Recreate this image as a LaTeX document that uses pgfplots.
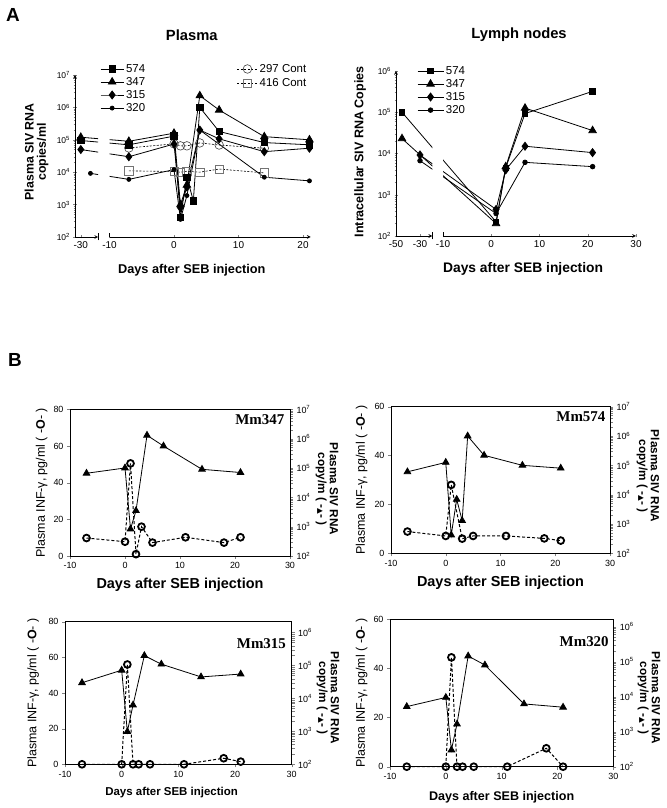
\documentclass[border=0pt]{standalone}
\usepackage{fontspec}
\setmainfont{Liberation Sans}
\newfontfamily\serifb{Liberation Serif}
\newfontfamily\symfont{DejaVu Sans}
\usepackage{pgfplots}
\usepackage{pgfplotstable}
\pgfplotsset{compat=1.18}
\newcommand{\fsz}[1]{\fontsize{#1}{#1}\selectfont}

% ---------- Panel A, plasma ----------
\pgfplotstableread{
d v
-30 9.5e4
-7 7e4
0 1.3e5
1 4e2
2 7e3
3 1.3e3
4 1e6
7 1.8e5
14 8.2e4
21 7e4
}\tabPa
\pgfplotstableread{
d v
-30 1.2e5
-7 9e4
0 1.6e5
1 1e3
2 4e3
4 2.3e6
7 8.3e5
14 1.25e5
21 1e5
}\tabPb
\pgfplotstableread{
d v
-30 5e4
-7 3e4
0 7.4e4
1 8e2
2 3.5e3
4 2e5
7 1.07e5
14 4.3e4
21 5.5e4
}\tabPc
\pgfplotstableread{
d v
-28.5 9.2e3
-7 6e3
0 1.2e4
1 3.5e2
2 1.9e3
4 2e5
14 7e3
21 5.4e3
}\tabPd
\pgfplotstableread{
d v
-7 5.6e4
0 7.5e4
1 6.5e4
2 6.5e4
4 8e4
7 6.9e4
14 5.5e4
}\tabPe
\pgfplotstableread{
d v
-7 1.1e4
0 1.05e4
1 1e4
2 1.07e4
4 1e4
7 1.25e4
14 9.5e3
}\tabPf
% ---------- Panel A, lymph nodes ----------
\pgfplotstableread{
d v
-45 1e5
1 2.2e2
3 4.5e3
7 9.3e4
21 3.2e5
}\tabLa
\pgfplotstableread{
d v
-45 2.3e4
1 2e2
3 4.8e3
7 1.26e5
21 3.6e4
}\tabLb
\pgfplotstableread{
d v
-30 9.2e3
1 4.4e2
3 4e3
7 1.5e4
21 1.05e4
}\tabLc
\pgfplotstableread{
d v
-30 6.7e3
1 3.5e2
7 6.1e3
21 4.8e3
}\tabLd
% ---------- Panel B ----------
\pgfplotstableread{
d v
-7 9.8
0 7.8
1 50.5
2 1
3 16
5 7.3
11 10.2
18 7.3
21 10.2
}\tabIa
\pgfplotstableread{
d v
-7 6.6e4
0 1e5
1 8.3e2
2 3.5e3
4 1.3e6
7 5.6e5
14 9e4
21 7e4
}\tabSa
\pgfplotstableread{
d v
-7 8.9
0 7.1
1 28
3 6
5 7.1
11 7.1
18 6.1
21 5.2
}\tabIb
\pgfplotstableread{
d v
-7 6e4
0 1.26e5
1 4.2e2
2 6.9e3
3 1.3e3
4 1e6
7 2.2e5
14 1e5
21 8e4
}\tabSb
\pgfplotstableread{
d v
-7 0
0 0
1 56
2 0
3 0
5 0
11 0
18 3.4
21 1.5
}\tabIc
\pgfplotstableread{
d v
-7 3e4
0 7.2e4
1 9.8e2
2 6.3e3
4 2e5
7 1.1e5
14 4.5e4
21 5.5e4
}\tabSc
\pgfplotstableread{
d v
-7 0
0 0
1 44.5
2 0
3 0
5 0
11 0
18 7.5
21 0
}\tabId
\pgfplotstableread{
d v
-7 5.2e3
0 9.5e3
1 3e2
2 1.65e3
4 1.45e5
7 8e4
14 6.2e3
21 5e3
}\tabSd

\tikzset{
  s574/.style={black, line width=0.8bp, mark=square*, mark size=3.2bp, mark options={solid}},
  s347/.style={black, line width=0.8bp, mark=triangle*, mark size=4.3bp, mark options={solid}},
  s315/.style={black, line width=0.8bp, mark=diamond*, mark size=4bp, mark options={solid}},
  s320/.style={black, line width=0.8bp, mark=*, mark size=2bp, mark options={solid}},
  s297/.style={black, line width=0.6bp, dash pattern=on 2bp off 1.5bp, mark=o, mark size=4.3bp, mark options={solid, fill=white, draw=black!75}},
  s416/.style={black, line width=0.6bp, dash pattern=on 2bp off 1.5bp, mark=square, mark size=4.2bp, mark options={solid, fill=white, draw=black!55}},
  sci/.style={black, line width=1bp, dash pattern=on 3bp off 2bp, mark=o, mark size=3.4bp, mark options={solid, fill=white, line width=1.8bp}},
  str/.style={black, line width=0.8bp, mark=triangle*, mark size=3.8bp, mark options={solid}},
  rlab/.style={rotate=-90, align=center, font=\fsz{11.8}\bfseries},
}
\newcommand{\rlabtext}{Plasma SIV RNA\\copy/m ( -{\symfont\fsz{7.5}▲}- )}

\begin{document}
\begin{tikzpicture}
\path[use as bounding box] (0bp,0bp) rectangle (667bp,808bp);
\node[font=\fsz{19}\bfseries] at (13bp,793bp) {A};
\node[font=\fsz{19}\bfseries] at (15bp,448bp) {B};

% ===== Plasma, left segment =====
\begin{axis}[name=plL, scale only axis, anchor=south west, at={(75bp,571bp)}, width=23.2bp, height=162bp,
  x coord trafo/.code={\pgfmathparse{((#1)<=-20)*(((#1)+30.9)*6.45)+((#1)>-20)*(34.5+((#1)+10)*6.45)}},
  ymode=log, ymin=1e2, ymax=1e7, xmin=-30.9, xmax=-27.3,
  tick align=outside, major tick length=3bp,
  axis line style={-, line width=0.7bp},
  xticklabel style={font=\fsz{10}}, yticklabel style={font=\fsz{8.5}},
  axis x line=bottom, axis y line=left,
  xtick={-30}, xticklabels={-30},
  ytick={1e2,1e3,1e4,1e5,1e6,1e7},
  yticklabels={10\textsuperscript{2},10\textsuperscript{3},10\textsuperscript{4},10\textsuperscript{5},10\textsuperscript{6},10\textsuperscript{7}},
  ylabel={Plasma SIV RNA\\copies/ml},
  ylabel style={at={(axis description cs:-1.66,0.525)}, anchor=center, align=center, font=\fsz{12.4}\bfseries},
  legend style={draw=none, fill=none, at={(axis description cs:6.98,1.08)}, anchor=north west, font=\fsz{11.5}, inner sep=0pt, row sep=0.8bp},
  legend cell align=left,
  legend image code/.code={\draw[mark repeat=2,mark phase=2] plot coordinates {(0bp,0bp) (10bp,0bp) (20bp,0bp)};}]
\addplot[s574, forget plot] table[x=d,y=v]{\tabPa};
\addplot[s347, forget plot] table[x=d,y=v]{\tabPb};
\addplot[s315, forget plot] table[x=d,y=v]{\tabPc};
\addplot[s320, forget plot] table[x=d,y=v]{\tabPd};
\addplot[s297] table[x=d,y=v]{\tabPe};
\addplot[s416] table[x=d,y=v]{\tabPf};
\legend{297 Cont,416 Cont}
\end{axis}
\draw[line width=0.7bp] ([yshift=-3.5bp]plL.south east) -- ([yshift=3.5bp]plL.south east);

% ===== Plasma, right segment =====
\begin{axis}[name=plR, scale only axis, anchor=south west, at={(109.5bp,571bp)}, width=201.24bp, height=162bp,
  x coord trafo/.code={\pgfmathparse{((#1)<=-20)*(((#1)+30.9)*6.45)+((#1)>-20)*(34.5+((#1)+10)*6.45)}},
  ymode=log, ymin=1e2, ymax=1e7, xmin=-10, xmax=21.2,
  tick align=outside, major tick length=3bp,
  axis line style={-, line width=0.7bp},
  xticklabel style={font=\fsz{10}},
  axis x line=bottom, axis y line=none,
  xtick={-10,0,10,20}, xticklabels={-10,0,10,20},
  xlabel={Days after SEB injection},
  xlabel style={at={(axis description cs:0.409,-0.204)}, anchor=center, font=\fsz{12.8}\bfseries},
  title={Plasma},
  title style={at={(axis description cs:0.409,1.21)}, anchor=center, font=\fsz{14.8}\bfseries},
  legend style={draw=none, fill=none, at={(axis description cs:-0.047,1.08)}, anchor=north west, font=\fsz{11.5}, inner sep=0pt, row sep=-0.4bp},
  legend cell align=left,
  legend image code/.code={\draw[mark repeat=2,mark phase=2] plot coordinates {(0bp,0bp) (11.5bp,0bp) (23bp,0bp)};}]
\addplot[s297, forget plot] table[x=d,y=v]{\tabPe};
\addplot[s416, forget plot] table[x=d,y=v]{\tabPf};
\addplot[s574] table[x=d,y=v]{\tabPa};
\addplot[s347] table[x=d,y=v]{\tabPb};
\addplot[s315] table[x=d,y=v]{\tabPc};
\addplot[s320] table[x=d,y=v]{\tabPd};
\legend{574,347,315,320}
\end{axis}
\draw[line width=0.7bp] (plR.south west) -- ([yshift=3.5bp]plR.south west);

% ===== Lymph nodes, left segment =====
\begin{axis}[name=lyL, scale only axis, anchor=south west, at={(396bp,572bp)}, width=36.3bp, height=165bp,
  x coord trafo/.code={\pgfmathparse{((#1)<=-15)*(((#1)+50)*1.2)+((#1)>-15)*(47+((#1)+10)*4.825)}},
  ymode=log, ymin=1e2, ymax=1e6, xmin=-50, xmax=-19.75,
  tick align=outside, major tick length=3bp,
  axis line style={-, line width=0.7bp},
  xticklabel style={font=\fsz{10}}, yticklabel style={font=\fsz{8.5}},
  axis x line=bottom, axis y line=left,
  xtick={-50,-30}, xticklabels={-50,-30},
  ytick={1e2,1e3,1e4,1e5,1e6},
  yticklabels={10\textsuperscript{2},10\textsuperscript{3},10\textsuperscript{4},10\textsuperscript{5},10\textsuperscript{6}},
  ylabel={Intracellular SIV RNA Copies},
  ylabel style={at={(axis description cs:-0.99,0.51)}, anchor=center, font=\fsz{12.6}\bfseries}]
\addplot[s574, mark size=2.8bp] table[x=d,y=v]{\tabLa};
\addplot[s347] table[x=d,y=v]{\tabLb};
\addplot[s315] table[x=d,y=v]{\tabLc};
\addplot[s320, mark size=2.3bp] table[x=d,y=v]{\tabLd};
\end{axis}
\draw[line width=0.7bp] ([yshift=-3.5bp]lyL.south east) -- ([yshift=3.5bp]lyL.south east);

% ===== Lymph nodes, right segment =====
\begin{axis}[name=lyR, scale only axis, anchor=south west, at={(443bp,572bp)}, width=193bp, height=165bp,
  x coord trafo/.code={\pgfmathparse{((#1)<=-15)*(((#1)+50)*1.2)+((#1)>-15)*(47+((#1)+10)*4.825)}},
  ymode=log, ymin=1e2, ymax=1e6, xmin=-10, xmax=30,
  tick align=outside, major tick length=3bp,
  axis line style={-, line width=0.7bp},
  xticklabel style={font=\fsz{10}},
  axis x line=bottom, axis y line=none,
  xtick={-10,0,10,20,30}, xticklabels={-10,0,10,20,30},
  xlabel={Days after SEB injection},
  xlabel style={at={(axis description cs:0.415,-0.2)}, anchor=center, font=\fsz{13.9}\bfseries},
  title={Lymph nodes},
  title style={at={(axis description cs:0.394,1.182)}, anchor=center, font=\fsz{14.8}\bfseries},
  legend style={draw=none, fill=none, at={(axis description cs:-0.135,1.042)}, anchor=north west, font=\fsz{11.5}, inner sep=0pt, row sep=-0.4bp},
  legend cell align=left,
  legend image code/.code={\draw[mark repeat=2,mark phase=2] plot coordinates {(0bp,0bp) (13bp,0bp) (26bp,0bp)};}]
\addplot[s574, mark size=2.8bp] table[x=d,y=v]{\tabLa};
\addplot[s347] table[x=d,y=v]{\tabLb};
\addplot[s315] table[x=d,y=v]{\tabLc};
\addplot[s320, mark size=2.3bp] table[x=d,y=v]{\tabLd};
\legend{574,347,315,320}
\end{axis}
\draw[line width=0.7bp] (lyR.south west) -- ([yshift=3.5bp]lyR.south west);

% ===== Mm347 =====
\begin{axis}[scale only axis, anchor=south west, at={(70bp,252bp)}, width=220bp, height=146.7bp, clip=false,
  xmin=-10, xmax=30, tick align=outside, major tick length=3bp,
  axis line style={line width=0.7bp}, ticklabel style={font=\fsz{9}},
  ymode=log, ymin=1e2, ymax=1e7, axis y line*=right, axis x line=none,
  ytick={1e2,1e3,1e4,1e5,1e6,1e7},
  yticklabels={10\textsuperscript{2},10\textsuperscript{3},10\textsuperscript{4},10\textsuperscript{5},10\textsuperscript{6},10\textsuperscript{7}}]
\addplot[str] table[x=d,y=v]{\tabSa};
\end{axis}
\begin{axis}[scale only axis, anchor=south west, at={(70bp,252bp)}, width=220bp, height=146.7bp, clip=false,
  xmin=-10, xmax=30, tick align=outside, major tick length=3bp,
  axis line style={line width=0.7bp}, ticklabel style={font=\fsz{9}},
  ymin=0, ymax=80, xtick={-10,0,10,20,30}, xticklabels={-10,0,10,20,30},
  xtick pos=left, ytick pos=left,
  ytick={0,20,40,60,80}, yticklabels={0,20,40,60,80},
  ylabel={Plasma INF-γ, pg/ml ( -\textbf{O}- )},
  ylabel style={anchor=center, font=\fsz{12.5}, at={(axis description cs:-0.129,0.5)}},
  xlabel={Days after SEB injection},
  xlabel style={anchor=center, at={(axis description cs:0.5,-0.198)}, font=\fsz{14.5}\bfseries}]
\addplot[sci] table[x=d,y=v]{\tabIa};
\node[anchor=east, font=\fsz{15}\serifb\bfseries] at (axis description cs:0.99,0.927) {Mm347};
\end{axis}
\node[rlab] at (327bp,319bp) {\rlabtext};

% ===== Mm574 =====
\begin{axis}[scale only axis, anchor=south west, at={(391bp,254.7bp)}, width=219bp, height=146.6bp, clip=false,
  xmin=-10, xmax=30, tick align=outside, major tick length=3bp,
  axis line style={line width=0.7bp}, ticklabel style={font=\fsz{9}},
  ymode=log, ymin=1e2, ymax=1e7, axis y line*=right, axis x line=none,
  ytick={1e2,1e3,1e4,1e5,1e6,1e7},
  yticklabels={10\textsuperscript{2},10\textsuperscript{3},10\textsuperscript{4},10\textsuperscript{5},10\textsuperscript{6},10\textsuperscript{7}}]
\addplot[str] table[x=d,y=v]{\tabSb};
\end{axis}
\begin{axis}[scale only axis, anchor=south west, at={(391bp,254.7bp)}, width=219bp, height=146.6bp, clip=false,
  xmin=-10, xmax=30, tick align=outside, major tick length=3bp,
  axis line style={line width=0.7bp}, ticklabel style={font=\fsz{9}},
  ymin=0, ymax=60, xtick={-10,0,10,20,30}, xticklabels={-10,0,10,20,30},
  xtick pos=left, ytick pos=left,
  ytick={0,20,40,60}, yticklabels={0,20,40,60},
  ylabel={Plasma INF-γ, pg/ml ( -\textbf{O}- )},
  ylabel style={anchor=center, font=\fsz{12.5}, at={(axis description cs:-0.134,0.5)}},
  xlabel={Days after SEB injection},
  xlabel style={anchor=center, at={(axis description cs:0.5,-0.203)}, font=\fsz{14.5}\bfseries}]
\addplot[sci] table[x=d,y=v]{\tabIb};
\node[anchor=east, font=\fsz{15}\serifb\bfseries] at (axis description cs:0.995,0.93) {Mm574};
\end{axis}
\node[rlab] at (648bp,332bp) {\rlabtext};

% ===== Mm315 =====
\begin{axis}[scale only axis, anchor=south west, at={(65bp,43.7bp)}, width=226.7bp, height=142.6bp, clip=false,
  xmin=-10, xmax=30, tick align=outside, major tick length=3bp,
  axis line style={line width=0.7bp}, ticklabel style={font=\fsz{9}},
  ymode=log, ymin=1e2, ymax=2.14e6, axis y line*=right, axis x line=none,
  ytick={1e2,1e3,1e4,1e5,1e6},
  yticklabels={10\textsuperscript{2},10\textsuperscript{3},10\textsuperscript{4},10\textsuperscript{5},10\textsuperscript{6}}]
\addplot[str] table[x=d,y=v]{\tabSc};
\end{axis}
\begin{axis}[scale only axis, anchor=south west, at={(65bp,43.7bp)}, width=226.7bp, height=142.6bp, clip=false,
  xmin=-10, xmax=30, tick align=outside, major tick length=3bp,
  axis line style={line width=0.7bp}, ticklabel style={font=\fsz{9}},
  ymin=0, ymax=80, xtick={-10,0,10,20,30}, xticklabels={-10,0,10,20,30},
  xtick pos=left, ytick pos=left,
  ytick={0,20,40,60,80}, yticklabels={0,20,40,60,80},
  ylabel={Plasma INF-γ, pg/ml ( -\textbf{O}- )},
  ylabel style={anchor=center, font=\fsz{12.5}, at={(axis description cs:-0.14,0.5)}},
  xlabel={Days after SEB injection},
  xlabel style={anchor=center, at={(axis description cs:0.47,-0.2)}, font=\fsz{11.5}\bfseries}]
\addplot[sci] table[x=d,y=v]{\tabIc};
\node[anchor=east, font=\fsz{15}\serifb\bfseries] at (axis description cs:0.99,0.845) {Mm315};
\end{axis}
\node[rlab] at (328bp,110bp) {\rlabtext};

% ===== Mm320 =====
\begin{axis}[scale only axis, anchor=south west, at={(390bp,41.3bp)}, width=223.3bp, height=147.4bp, clip=false,
  xmin=-10, xmax=30, tick align=outside, major tick length=3bp,
  axis line style={line width=0.7bp}, ticklabel style={font=\fsz{9}},
  ymode=log, ymin=1e2, ymax=1.62e6, axis y line*=right, axis x line=none,
  ytick={1e2,1e3,1e4,1e5,1e6},
  yticklabels={10\textsuperscript{2},10\textsuperscript{3},10\textsuperscript{4},10\textsuperscript{5},10\textsuperscript{6}}]
\addplot[str] table[x=d,y=v]{\tabSd};
\end{axis}
\begin{axis}[scale only axis, anchor=south west, at={(390bp,41.3bp)}, width=223.3bp, height=147.4bp, clip=false,
  xmin=-10, xmax=30, tick align=outside, major tick length=3bp,
  axis line style={line width=0.7bp}, ticklabel style={font=\fsz{9}},
  ymin=0, ymax=60, xtick={-10,0,10,20,30}, xticklabels={-10,0,10,20,30},
  xtick pos=left, ytick pos=left,
  ytick={0,20,40,60}, yticklabels={0,20,40,60},
  ylabel={Plasma INF-γ, pg/ml ( -\textbf{O}- )},
  ylabel style={anchor=center, font=\fsz{12.5}, at={(axis description cs:-0.127,0.5)}},
  xlabel={Days after SEB injection},
  xlabel style={anchor=center, at={(axis description cs:0.5,-0.204)}, font=\fsz{12.6}\bfseries}]
\addplot[sci] table[x=d,y=v]{\tabId};
\node[anchor=east, font=\fsz{15}\serifb\bfseries] at (axis description cs:0.995,0.85) {Mm320};
\end{axis}
\node[rlab] at (649bp,110bp) {\rlabtext};
\end{tikzpicture}
\end{document}
